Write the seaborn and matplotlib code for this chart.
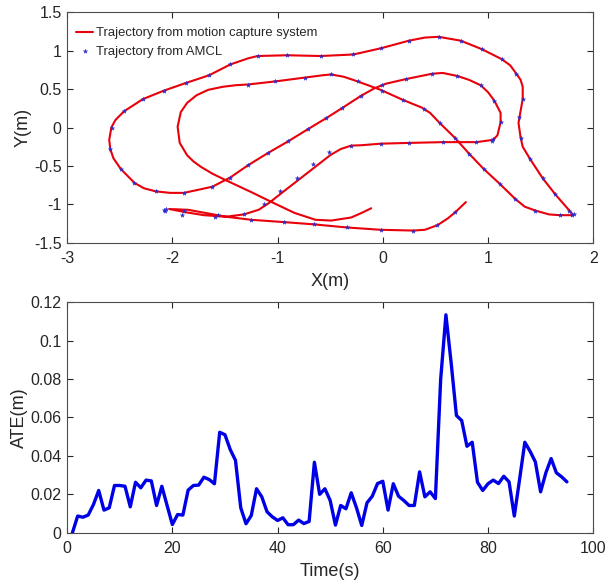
import numpy as np
import pandas as pd
import matplotlib
matplotlib.use("Agg")
import matplotlib.pyplot as plt
import seaborn as sns

# Trayectoria del sistema de captura de movimiento (m)
traj_x = [-0.11, -0.20, -0.30, -0.49, -0.64, -0.84, -1.04, -1.25, -1.50, -1.62,
          -1.73, -1.80, -1.86, -1.93, -1.95, -1.92, -1.86, -1.77, -1.66, -1.52,
          -1.40, -1.28, -1.02, -0.74, -0.57, -0.49, -0.37, -0.24, -0.02, 0.19,
          0.37, 0.45, 0.54, 0.69, 0.82, 0.96, 1.11, 1.26, 1.35, 1.45,
          1.58, 1.68, 1.81, 1.78, 1.64, 1.52, 1.40, 1.33, 1.31, 1.29,
          1.30, 1.33, 1.33, 1.31, 1.27, 1.21, 1.13, 0.94, 0.74, 0.53,
          0.40, 0.25, -0.02, -0.28, -0.44, -0.59, -0.91, -1.19, -1.28, -1.45,
          -1.65, -1.87, -2.08, -2.28, -2.46, -2.54, -2.58, -2.60, -2.59, -2.56,
          -2.49, -2.36, -2.27, -2.16, -2.02, -1.89, -1.62, -1.45, -1.28, -1.09,
          -0.90, -0.71, -0.54, -0.39, -0.21, -0.08, 0.03, 0.22, 0.47, 0.57,
          0.71, 0.82, 0.93, 1.00, 1.06, 1.12, 1.12, 1.09, 1.05, 0.89,
          0.57, 0.25, -0.02, -0.20, -0.30, -0.40, -0.50, -0.64, -0.80, -0.96,
          -1.08, -1.18, -1.32, -1.49, -1.70, -1.88, -2.03, -1.85, -1.65, -1.49,
          -1.25, -0.94, -0.65, -0.34, -0.02, 0.29, 0.40, 0.52, 0.62, 0.69,
          0.79]
traj_y = [-1.05, -1.11, -1.17, -1.21, -1.20, -1.11, -0.98, -0.84, -0.68, -0.60,
          -0.51, -0.44, -0.36, -0.20, 0.01, 0.20, 0.32, 0.42, 0.49, 0.53,
          0.55, 0.56, 0.60, 0.65, 0.68, 0.69, 0.66, 0.60, 0.49, 0.36,
          0.26, 0.19, 0.06, -0.14, -0.34, -0.54, -0.73, -0.93, -1.03, -1.08,
          -1.13, -1.14, -1.14, -1.09, -0.87, -0.66, -0.41, -0.25, -0.13, 0.06,
          0.14, 0.37, 0.53, 0.62, 0.70, 0.81, 0.89, 1.02, 1.13, 1.18,
          1.17, 1.13, 1.03, 0.95, 0.94, 0.93, 0.94, 0.93, 0.90, 0.82,
          0.68, 0.58, 0.48, 0.37, 0.21, 0.10, 0.00, -0.16, -0.28, -0.40,
          -0.54, -0.72, -0.79, -0.83, -0.85, -0.85, -0.77, -0.65, -0.49, -0.33,
          -0.18, -0.02, 0.12, 0.25, 0.41, 0.51, 0.57, 0.63, 0.70, 0.71,
          0.67, 0.62, 0.55, 0.46, 0.35, 0.19, 0.07, -0.10, -0.16, -0.19,
          -0.19, -0.20, -0.21, -0.23, -0.235, -0.28, -0.36, -0.51, -0.68, -0.85,
          -0.98, -1.07, -1.13, -1.16, -1.14, -1.10, -1.06, -1.07, -1.12, -1.16,
          -1.20, -1.23, -1.26, -1.30, -1.33, -1.34, -1.33, -1.27, -1.18, -1.10,
          -0.97]

# Trayectoria estimada por AMCL (m)
amcl_x = [-1.28, -1.02, -0.74, -0.49, -0.24, -0.01, 0.19, 0.39, 0.54, 0.69,
          0.82, 0.96, 1.11, 1.26, 1.45, 1.68, 1.80, 1.82, 1.77, 1.64,
          1.52, 1.40, 1.31, 1.29, 1.33, 1.27, 1.13, 0.94, 0.74, 0.53,
          0.25, -0.02, -0.28, -0.59, -0.91, -1.19, -1.45, -1.65, -1.87, -2.08,
          -2.28, -2.46, -2.57, -2.59, -2.49, -2.36, -2.16, -1.89, -1.62, -1.45,
          -1.28, -1.09, -0.90, -0.71, -0.54, -0.39, -0.21, -0.01, 0.22, 0.47,
          0.71, 0.93, 1.06, 1.12, 1.04, 1.05, 0.89, 0.57, 0.25, -0.02,
          -0.30, -0.51, -0.66, -0.82, -0.98, -1.13, -1.32, -1.57, -1.59, -1.91,
          -1.89, -2.07, -2.08, -2.06, -1.25, -0.94, -0.65, -0.34, -0.02, 0.29,
          0.52, 0.69]
amcl_y = [0.55, 0.60, 0.65, 0.69, 0.60, 0.48, 0.36, 0.24, 0.06, -0.14,
          -0.34, -0.54, -0.73, -0.93, -1.08, -1.14, -1.14, -1.13, -1.08, -0.87,
          -0.66, -0.41, -0.13, 0.14, 0.37, 0.70, 0.89, 1.02, 1.13, 1.18,
          1.13, 1.03, 0.95, 0.93, 0.94, 0.93, 0.82, 0.68, 0.58, 0.48,
          0.37, 0.21, 0.00, -0.28, -0.54, -0.72, -0.83, -0.85, -0.77, -0.65,
          -0.49, -0.33, -0.18, -0.02, 0.12, 0.25, 0.41, 0.55, 0.63, 0.70,
          0.67, 0.55, 0.35, 0.07, -0.17, -0.15, -0.19, -0.19, -0.20, -0.22,
          -0.24, -0.32, -0.48, -0.66, -0.83, -1.00, -1.13, -1.14, -1.16, -1.14,
          -1.08, -1.08, -1.07, -1.06, -1.20, -1.23, -1.26, -1.30, -1.33, -1.34,
          -1.27, -1.10]

# Error absoluto de trayectoria por segundo
time_s = list(range(1, 96))
ate_m = [0.0, 0.0087, 0.0081, 0.0092, 0.0147, 0.022, 0.0118, 0.013, 0.0246, 0.0246,
         0.0242, 0.0135, 0.0263, 0.0234, 0.0274, 0.027, 0.0142, 0.0242, 0.0142, 0.0043,
         0.0095, 0.0092, 0.0222, 0.0246, 0.0248, 0.0289, 0.0277, 0.0255, 0.0523, 0.051,
         0.0433, 0.0377, 0.013, 0.0047, 0.009, 0.0229, 0.0187, 0.0109, 0.0083, 0.0064,
         0.0078, 0.0042, 0.0042, 0.0066, 0.0048, 0.0059, 0.0367, 0.02, 0.0229, 0.0168,
         0.004, 0.0142, 0.0125, 0.0208, 0.013, 0.0038, 0.0156, 0.019, 0.0256, 0.0268,
         0.0118, 0.0255, 0.019, 0.0168, 0.0142, 0.0142, 0.0317, 0.0187, 0.0213, 0.0178,
         0.0797, 0.1134, 0.0883, 0.061, 0.0584, 0.045, 0.0471, 0.0263, 0.022, 0.0255,
         0.0274, 0.0256, 0.0294, 0.0265, 0.0087, 0.0277, 0.0471, 0.0424, 0.0369, 0.0213,
         0.0312, 0.0386, 0.0312, 0.0291, 0.0265]

sns.set_style("white", {
    "xtick.direction": "in", "ytick.direction": "in",
    "axes.edgecolor": "#4d4d4d", "xtick.color": "#262626", "ytick.color": "#262626",
    "xtick.bottom": True, "ytick.left": True, "xtick.top": True, "ytick.right": True,
})
plt.rcParams['font.family'] = ['Liberation Sans', 'DejaVu Sans']
plt.rcParams['axes.linewidth'] = 0.8
plt.rcParams['xtick.major.size'] = 4
plt.rcParams['ytick.major.size'] = 4


def fmt(v):
    return f"{v:g}"


fig = plt.figure(figsize=(6.16, 5.81), dpi=100)
ax1 = fig.add_axes([0.109, 0.582, 0.854, 0.397])
ax2 = fig.add_axes([0.109, 0.083, 0.854, 0.397])

# Gráfico superior: trayectorias
df_traj = pd.DataFrame({'x': traj_x, 'y': traj_y})
df_amcl = pd.DataFrame({'x': amcl_x, 'y': amcl_y})
sns.lineplot(data=df_traj, x='x', y='y', sort=False, estimator=None, ax=ax1,
             color='#e8000b', linewidth=1.5, label='Trajectory from motion capture system')
sns.scatterplot(data=df_amcl, x='x', y='y', ax=ax1, color='#2a2ad0', marker='*',
                s=10, linewidth=0.3, edgecolor='#2a2ad0', zorder=3,
                label='Trajectory from AMCL')
ax1.set_xlim(-3, 2)
ax1.set_ylim(-1.5, 1.5)
xt = [-3, -2, -1, 0, 1, 2]
yt = [-1.5, -1, -0.5, 0, 0.5, 1, 1.5]
ax1.set_xticks(xt)
ax1.set_xticklabels([fmt(v) for v in xt])
ax1.set_yticks(yt)
ax1.set_yticklabels([fmt(v) for v in yt])
ax1.set_xlabel('X(m)', fontsize=13, labelpad=5)
ax1.set_ylabel('Y(m)', fontsize=13, labelpad=2)
ax1.tick_params(labelsize=11.5, width=0.8)
ax1.tick_params(axis='x', pad=6)
ax1.tick_params(axis='y', pad=4)
ax1.legend(loc='upper left', frameon=False, fontsize=9.4, handlelength=1.3,
           handletextpad=0.2, borderaxespad=0.3, labelspacing=0.5,
           bbox_to_anchor=(0.0, 0.975))

# Gráfico inferior: ATE
df_ate = pd.DataFrame({'t': time_s, 'ate': ate_m})
sns.lineplot(data=df_ate, x='t', y='ate', ax=ax2, color='#0000e6', linewidth=2.4)
ax2.set_xlim(0, 100)
ax2.set_ylim(0, 0.12)
xt2 = [0, 20, 40, 60, 80, 100]
yt2 = [0, 0.02, 0.04, 0.06, 0.08, 0.1, 0.12]
ax2.set_xticks(xt2)
ax2.set_xticklabels([fmt(v) for v in xt2])
ax2.set_yticks(yt2)
ax2.set_yticklabels([fmt(v) for v in yt2])
ax2.set_xlabel('Time(s)', fontsize=13, labelpad=5)
ax2.set_ylabel('ATE(m)', fontsize=13, labelpad=2)
ax2.tick_params(labelsize=11.5, width=0.8)
ax2.tick_params(axis='x', pad=6)
ax2.tick_params(axis='y', pad=4)

for ax in (ax1, ax2):
    for sp in ax.spines.values():
        sp.set_visible(True)

fig.savefig('out.png', dpi=100)
